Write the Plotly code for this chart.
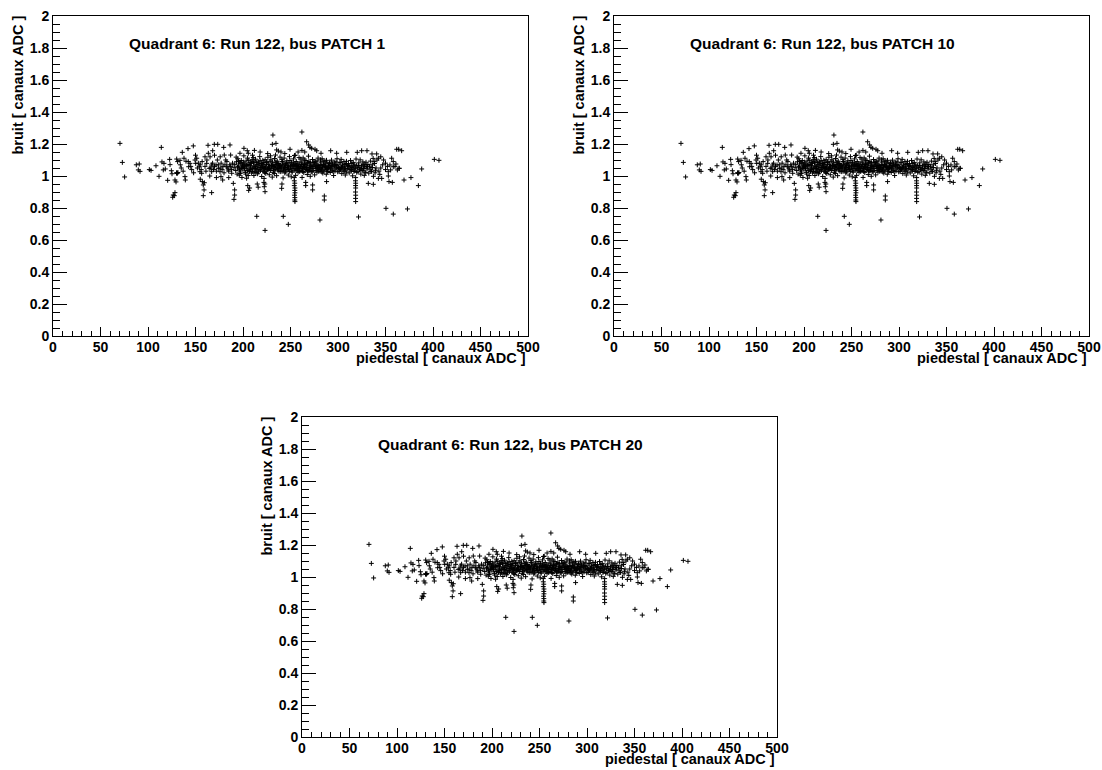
import plotly.graph_objects as go

# ---------------- data (identical in the three panels) ----------------
ped_left = [70.5, 73, 75.4, 87.7, 90.8, 89.8, 91.6, 101.4, 103.2, 108.4, 111.6, 114, 114.7, 116.8, 118.2,
            116.1, 120.7, 122.8, 123.2, 124.6, 125.3, 127.7, 126, 126.6, 128.4, 130, 130.8, 131.5, 130.5,
            130.2, 131.2, 133.7, 128.4, 129.5, 136.1, 137.9, 140, 138.9, 139.3, 142.1, 142.4, 144.2, 142.8,
            147.7, 149.5, 151.3, 150.2, 154, 154.7, 156.5, 157.2, 158.2, 159, 158.2, 159.3, 163.2, 168.1,
            163.5, 165.3, 167, 161.8, 164.5, 167, 167, 169.8, 173.4, 171.6, 174, 175.8, 176.8, 178.6, 179.7,
            180.3, 181.8, 186.3, 187, 182.8, 184.5, 188.1, 189.8, 191.2, 191.2, 190.5,
            145, 146, 148, 152, 153, 155, 156, 157, 160, 161, 162, 166, 168, 169, 170, 172, 173, 174, 176,
            177, 178, 179, 180, 181, 183, 184, 185, 186, 187, 188, 189, 176, 170, 160, 150, 165, 172, 185,
            155, 135, 137, 134]
bruit_left = [1.204, 1.085, 0.994, 1.070, 1.075, 1.038, 1.029, 1.040, 1.035, 1.064, 0.998, 1.179, 1.088, 1.079, 1.044,
              1.038, 0.973, 1.104, 1.071, 1.033, 1.014, 0.877, 0.867, 0.881, 0.896, 1.020, 1.018, 1.022, 1.016,
              1.106, 1.090, 1.098, 0.975, 0.963, 1.148, 1.111, 1.092, 0.996, 0.975, 1.171, 1.090, 1.079, 1.058,
              1.188, 1.100, 1.111, 1.079, 1.058, 1.027, 1.017, 0.965, 0.944, 0.913, 0.877, 0.958, 1.192, 1.158,
              1.142, 1.120, 1.069, 1.079, 1.048, 1.027, 0.896, 1.198, 1.198, 1.069, 1.048, 1.027, 0.996, 0.975, 1.179,
              1.131, 1.100, 1.194, 1.131, 1.058, 1.038, 1.017, 0.954, 0.913, 0.881, 0.854,
              1.06, 1.04, 1.02, 1.05, 1.08, 1.07, 1.04, 1.09, 1.06, 1.03, 1.10, 1.05, 1.08, 1.04, 1.06, 1.03, 1.10, 1.07, 1.05,
              1.08, 1.04, 1.06, 1.02, 1.07, 1.09, 1.05, 1.03, 1.07, 1.06, 1.04, 1.08, 1.12, 1.13, 1.12, 1.13, 1.00, 0.99, 0.99,
              0.98, 1.05, 1.03, 1.07]

ped_core = [190.6, 191.4, 192.3, 193.1, 193.8, 194.5, 195.2, 195.9, 196.7, 197.4, 198.2, 198.9, 199.5, 192.8, 196.1, 199.1, 194.2, 197.8,
            200.4, 201.2, 201.9, 202.6, 203.3, 204.1, 204.8, 205.5, 206.2, 206.9, 207.6, 208.3, 209.1, 209.7, 200.9, 203.8, 205.1, 207.2, 208.8, 202.2,
            210.3, 211.1, 211.8, 212.5, 213.2, 213.9, 214.7, 215.4, 216.1, 216.8, 217.6, 218.3, 219.0, 219.7, 210.8, 212.9, 215.0, 217.1, 218.8, 211.5,
            220.4, 221.1, 221.9, 222.6, 223.3, 224.0, 224.8, 225.5, 226.2, 226.9, 227.7, 228.4, 229.1, 229.8, 220.9, 223.7, 225.1, 227.3, 228.9, 222.2,
            230.3, 231.0, 231.8, 232.5, 233.2, 233.9, 234.7, 235.4, 236.1, 236.8, 237.6, 238.3, 239.0, 239.7, 230.8, 232.9, 235.0, 237.1, 238.8, 234.2,
            240.4, 241.1, 241.9, 242.6, 243.3, 244.0, 244.8, 245.5, 246.2, 246.9, 247.7, 248.4, 249.1, 249.8, 240.9, 243.7, 245.1, 247.3, 248.9, 242.2,
            250.3, 251.0, 251.8, 252.5, 253.2, 253.9, 254.7, 255.4, 256.1, 256.8, 257.6, 258.3, 259.0, 259.7, 250.8, 252.9, 255.0, 257.1, 258.8, 254.2,
            260.4, 261.1, 261.9, 262.6, 263.3, 264.0, 264.8, 265.5, 266.2, 266.9, 267.7, 268.4, 269.1, 269.8, 260.9, 263.7, 265.1, 267.3, 268.9, 262.2,
            270.3, 271.0, 271.8, 272.5, 273.2, 273.9, 274.7, 275.4, 276.1, 276.8, 277.6, 278.3, 279.0, 279.7, 270.8, 272.9, 275.0, 277.1, 278.8,
            280.4, 281.1, 281.9, 282.6, 283.3, 284.0, 284.8, 285.5, 286.2, 286.9, 287.7, 288.4, 289.1, 289.8, 281.6, 283.7, 286.5, 288.9,
            290.3, 291.0, 291.8, 292.5, 293.2, 293.9, 294.7, 295.4, 296.1, 296.8, 297.6, 298.3, 299.0, 299.7, 292.1, 295.9,
            300.4, 301.1, 301.9, 302.6, 303.3, 304.0, 304.8, 305.5, 306.2, 306.9, 307.7, 308.4, 309.1, 309.8, 303.7, 307.3,
            310.3, 311.0, 311.8, 312.5, 313.2, 313.9, 314.7, 315.4, 316.1, 316.8, 317.6, 318.3, 319.0, 319.7, 314.1,
            320.4, 321.1, 321.9, 322.6, 323.3, 324.0, 324.8, 325.5, 326.2, 326.9, 327.7, 328.4, 329.1, 329.8,
            330.6, 331.5, 332.4, 333.2, 334.1, 335.0, 336.2, 337.3, 338.5, 339.4]
bruit_core = [1.052, 1.071, 1.034, 1.089, 1.012, 1.108, 1.061, 1.043, 1.079, 1.025, 1.097, 0.991, 1.064, 1.118, 1.005, 1.047, 1.056, 1.083,
              1.058, 1.037, 1.076, 1.021, 1.094, 1.049, 1.112, 1.003, 1.067, 1.031, 1.085, 1.056, 1.019, 1.102, 1.126, 0.986, 1.072, 1.044, 1.079, 1.061,
              1.046, 1.082, 1.027, 1.063, 1.105, 1.038, 1.071, 1.014, 1.089, 1.052, 1.121, 1.033, 1.068, 0.997, 1.115, 1.058, 1.043, 1.076, 1.054, 1.003,
              1.061, 1.029, 1.084, 1.047, 1.102, 1.016, 1.073, 1.039, 1.117, 1.055, 1.008, 1.092, 1.034, 1.067, 1.098, 1.052, 1.085, 1.043, 1.126, 0.985,
              1.048, 1.086, 1.023, 1.071, 1.109, 1.041, 1.064, 1.002, 1.093, 1.036, 1.078, 1.055, 1.118, 1.027, 0.993, 1.059, 1.082, 1.047, 1.066, 1.131,
              1.057, 1.031, 1.087, 1.045, 1.112, 1.019, 1.069, 1.038, 1.095, 1.051, 1.006, 1.083, 1.029, 1.062, 1.104, 1.054, 1.077, 1.042, 1.121, 0.988,
              1.049, 1.081, 1.024, 1.066, 1.107, 1.037, 1.061, 1.004, 1.091, 1.033, 1.074, 1.052, 1.115, 1.028, 0.995, 1.057, 1.079, 1.045, 1.068, 1.128,
              1.059, 1.034, 1.088, 1.047, 1.113, 1.021, 1.072, 1.039, 1.097, 1.053, 1.009, 1.085, 1.031, 1.064, 1.106, 1.056, 1.079, 1.044, 1.124, 0.991,
              1.051, 1.083, 1.026, 1.068, 1.103, 1.036, 1.062, 1.007, 1.092, 1.034, 1.075, 1.054, 1.112, 1.029, 0.998, 1.058, 1.081, 1.046, 1.066,
              1.056, 1.032, 1.087, 1.044, 1.108, 1.018, 1.071, 1.037, 1.094, 1.052, 1.011, 1.082, 1.028, 1.063, 1.101, 1.055, 1.076, 1.045,
              1.048, 1.079, 1.022, 1.065, 1.099, 1.035, 1.058, 1.003, 1.087, 1.031, 1.072, 1.051, 1.108, 1.026, 1.043, 1.069,
              1.053, 1.029, 1.084, 1.042, 1.104, 1.015, 1.067, 1.036, 1.091, 1.049, 1.006, 1.078, 1.025, 1.061, 1.055, 1.072,
              1.046, 1.077, 1.019, 1.063, 1.097, 1.032, 1.056, 1.001, 1.085, 1.028, 1.069, 1.048, 1.106, 1.023, 1.041,
              1.051, 1.027, 1.082, 1.039, 1.101, 1.012, 1.064, 1.034, 1.088, 1.047, 1.004, 1.075, 1.021, 1.058,
              1.044, 1.072, 1.018, 1.061, 1.093, 1.029, 1.053, 0.998, 1.078, 1.036]

ped_dense = [196.4, 199.8, 201.6, 203.9, 206.5, 208.0, 209.4, 211.4, 213.6, 215.8, 217.9, 219.4, 221.5, 223.0, 224.4,
             226.6, 228.0, 230.0, 232.2, 233.6, 235.8, 237.9, 239.3, 241.5, 242.9, 244.4, 246.6, 248.0, 250.0, 251.5,
             253.6, 255.7, 257.9, 259.3, 261.5, 262.9, 264.4, 266.6, 268.0, 270.0, 271.4, 273.6, 275.7, 277.9, 279.3,
             281.4, 283.0, 284.4, 286.6, 288.0, 290.0, 292.8, 294.2, 297.0, 298.9, 302.0, 305.0, 308.0, 311.4, 315.0,
             317.2, 322.3, 325.1, 328.0,
             195.3, 197.1, 198.6, 200.7, 202.9, 204.5, 206.0, 207.9, 209.9, 211.7, 213.0, 214.4, 216.4, 218.0, 219.9,
             221.3, 222.9, 224.9, 226.0, 227.9, 229.5, 231.4, 233.0, 234.5, 236.5, 238.0, 239.9, 241.3, 243.0, 244.6,
             246.0, 247.9, 249.5, 251.3, 252.8, 254.9, 256.4, 258.0, 259.9, 261.3, 263.0, 264.6, 266.0, 267.9, 269.5,
             271.3, 272.8, 274.5, 276.4, 278.0, 279.9, 281.3, 283.0, 284.6, 286.0, 287.9, 289.5, 291.4, 293.0, 294.9,
             296.5, 298.0, 300.0, 301.5, 303.0, 304.5, 306.5, 308.9, 310.7, 312.9, 314.5, 316.5, 319.3, 321.5, 323.9,
             326.5, 327.4, 329.5, 331.0, 333.8]
bruit_dense = [1.038, 1.073, 1.049, 1.066, 1.027, 1.041, 1.088, 1.055, 1.022, 1.063, 1.041, 1.078, 1.045, 1.062, 1.031,
               1.074, 1.049, 1.066, 1.035, 1.054, 1.071, 1.029, 1.058, 1.074, 1.036, 1.052, 1.067, 1.041, 1.063, 1.046,
               1.072, 1.038, 1.059, 1.044, 1.069, 1.028, 1.055, 1.041, 1.076, 1.037, 1.061, 1.048, 1.069, 1.024, 1.057,
               1.043, 1.066, 1.031, 1.059, 1.039, 1.062, 1.051, 1.076, 1.044, 1.063, 1.038, 1.058, 1.043, 1.061, 1.052,
               1.037, 1.055, 1.049, 1.062,
               1.091, 1.016, 1.054, 1.087, 1.012, 1.035, 1.098, 1.064, 1.029, 1.093, 1.047, 1.084, 1.026, 1.096, 1.051,
               1.074, 1.021, 1.089, 1.044, 1.061, 1.101, 1.057, 1.016, 1.088, 1.049, 1.069, 1.044, 1.091, 1.068, 1.026,
               1.081, 1.058, 1.097, 1.031, 1.086, 1.048, 1.066, 1.023, 1.082, 1.047, 1.071, 1.099, 1.062, 1.033, 1.091,
               1.046, 1.027, 1.084, 1.058, 1.094, 1.041, 1.071, 1.025, 1.089, 1.063, 1.098, 1.053, 1.086, 1.061, 1.027,
               1.064, 1.089, 1.069, 1.047, 1.083, 1.056, 1.027, 1.092, 1.065, 1.041, 1.078, 1.062, 1.067, 1.066, 1.044,
               1.071, 1.031, 1.086, 1.057, 1.043]

ped_streaks = [207, 206, 205, 215, 216, 222.4, 223.2, 223, 222, 240.7, 241,
               254, 254, 254.5, 254, 254.7, 254.5, 254.7, 254.3, 254.6, 254.5, 254.7,
               266, 266, 273.3, 273.3, 285.6, 285.6, 288,
               318.6, 318.4, 318.6, 318.5, 318.6, 318.4, 318.6, 318.5, 318.6, 331.9, 337.2]
bruit_streaks = [0.925, 0.910, 0.940, 0.950, 0.930, 0.933, 0.902, 0.950, 0.960, 0.923, 0.950,
                 0.990, 0.970, 0.955, 0.940, 0.925, 0.910, 0.895, 0.880, 0.865, 0.850, 0.840,
                 0.960, 0.940, 0.944, 0.913, 0.875, 0.850, 0.965,
                 0.990, 0.970, 0.955, 0.940, 0.925, 0.900, 0.880, 0.860, 0.840, 0.954, 0.948]

ped_upper = [231.5, 262, 230.9, 234.7, 235.4, 237.2, 267, 269.1, 270.5, 272.3, 275.8, 277.6, 249.5, 282.1, 292.3,
             298.6, 309.2, 320.3, 324.9, 330.5, 335.8, 340.7, 342.5, 201, 204.5, 196.8, 205.6,
             240, 244, 258, 262, 265, 255, 226, 218, 212, 210]
bruit_upper = [1.256, 1.275, 1.198, 1.204, 1.163, 1.156, 1.214, 1.194, 1.179, 1.173, 1.167, 1.158, 1.167, 1.142, 1.158,
               1.142, 1.148, 1.148, 1.158, 1.158, 1.138, 1.138, 1.111, 1.173, 1.158, 1.142, 1.142,
               1.15, 1.14, 1.15, 1.16, 1.15, 1.13, 1.14, 1.15, 1.16, 1.13]

ped_right = [361.8, 363.9, 367, 356.5, 358.2, 354.7, 352.9, 364.2, 388.1, 369.5, 376.8, 384.6, 401.4, 406.3,
             353, 346, 342.5, 353.7, 357.2, 355.4, 358.2, 362.5, 364.5, 360, 361, 345, 347, 343, 348, 350,
             345, 338, 336, 340, 339, 344, 341, 352, 350, 335, 337]
bruit_right = [1.167, 1.167, 1.158, 1.111, 1.090, 1.069, 1.027, 1.048, 1.044, 0.975, 0.990, 0.940, 1.104, 1.098,
               1.000, 0.985, 0.985, 0.965, 0.960, 1.038, 1.058, 1.038, 1.048, 1.060, 1.075, 1.05, 1.07, 1.03, 1.10, 1.08,
               1.12, 1.09, 1.07, 1.05, 1.02, 1.01, 1.10, 1.06, 1.04, 1.03, 1.11]

ped_low = [214.5, 223.2, 242.4, 247.7, 281, 321.6, 350.5, 358.2, 373.1]
bruit_low = [0.748, 0.660, 0.748, 0.698, 0.725, 0.744, 0.798, 0.762, 0.794]

panel_titles = ["Quadrant 6: Run 122, bus PATCH 1",
                "Quadrant 6: Run 122, bus PATCH 10",
                "Quadrant 6: Run 122, bus PATCH 20"]
x_title = "piedestal [ canaux ADC ]"
y_title = "bruit [ canaux ADC ]"

# ---------------- figure ----------------
ped = ped_left + ped_core + ped_dense + ped_streaks + ped_upper + ped_right + ped_low
bruit = bruit_left + bruit_core + bruit_dense + bruit_streaks + bruit_upper + bruit_right + bruit_low

W, H = 1102, 770
FONT = "Liberation Sans, Arial, Helvetica, sans-serif"

# pixel geometry of the three frames in the window: (left, right, top, bottom)
frames = [(53, 528, 16, 336), (614, 1089, 16, 336), (302, 777, 417, 737)]

fig = go.Figure()
layout = dict(template="none", width=W, height=H,
              margin=dict(l=0, r=0, t=0, b=0, autoexpand=False),
              paper_bgcolor="white", plot_bgcolor="white", showlegend=False)
annotations = []

for i, (l, r, t, b) in enumerate(frames):
    n = "" if i == 0 else str(i + 1)
    fig.add_trace(go.Scatter(
        x=ped, y=bruit, mode="markers", xaxis="x" + n, yaxis="y" + n,
        marker=dict(symbol="cross-thin", size=3.5, color="black",
                    line=dict(width=1, color="black")),
        hoverinfo="skip"))
    tickfont = dict(family=FONT, size=14, color="black", weight="bold")
    layout["xaxis" + n] = dict(
        domain=[l / W, r / W], anchor="y" + n, range=[0, 500], automargin=False,
        dtick=50, tick0=0, ticks="inside", ticklen=9, tickwidth=1, tickcolor="black",
        minor=dict(dtick=10, tick0=0, ticks="inside", ticklen=5, tickwidth=1, tickcolor="black"),
        showline=True, linecolor="black", linewidth=1, mirror=True, ticklabelstandoff=-2,
        ticklabeloverflow="allow",
        showgrid=False, zeroline=False, tickfont=tickfont, fixedrange=True)
    layout["yaxis" + n] = dict(
        domain=[1 - b / H, 1 - t / H], anchor="x" + n, range=[0, 2], automargin=False,
        dtick=0.2, tick0=0, ticks="inside", ticklen=14, tickwidth=1, tickcolor="black",
        minor=dict(dtick=0.05, tick0=0, ticks="inside", ticklen=7, tickwidth=1, tickcolor="black"),
        showline=True, linecolor="black", linewidth=1, mirror=True, ticklabeloverflow="allow",
        showgrid=False, zeroline=False, tickfont=tickfont, fixedrange=True)
    # in-frame title
    annotations.append(dict(
        text="<b>" + panel_titles[i] + "</b>", xref="x" + n + " domain", yref="y" + n + " domain",
        x=0.156, y=0.915, xanchor="left", yanchor="middle", showarrow=False,
        font=dict(family=FONT, size=15.5, color="black")))
    # x axis title, right aligned at the end of the axis
    annotations.append(dict(
        text="<b>" + x_title + "</b>", xref="paper", yref="paper",
        x=r / W, y=1 - (b + 22) / H, xanchor="right", yanchor="middle", showarrow=False,
        font=dict(family=FONT, size=14.5, color="black")))
    # y axis title, rotated, aligned at the top of the axis
    annotations.append(dict(
        text="<b>" + y_title + "</b>", xref="paper", yref="paper", textangle=-90,
        x=(l - 36) / W, y=1 - (t - 2) / H, xanchor="center", yanchor="top", showarrow=False,
        font=dict(family=FONT, size=14.5, color="black")))

layout["annotations"] = annotations
fig.update_layout(**layout)
# remove the default page margin so the 1102x770 figure fills the window exactly
fig.write_html("out.html", config={"displayModeBar": False},
               post_script="document.body.style.margin='0';document.body.style.overflow='hidden';")
